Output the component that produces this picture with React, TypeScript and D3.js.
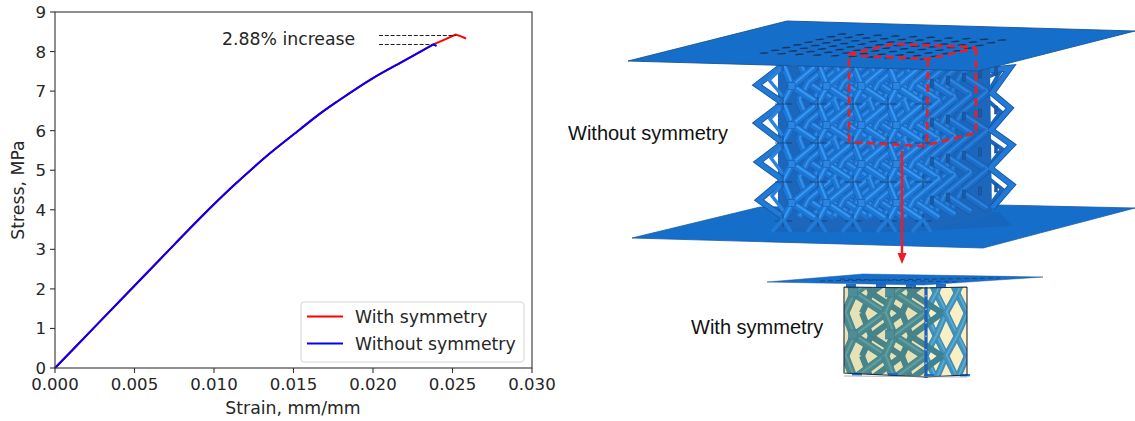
import React from "react";
import * as d3 from "d3";

const strainTicks = [0, 0.005, 0.01, 0.015, 0.02, 0.025, 0.03];
const stressTicks = [0, 1, 2, 3, 4, 5, 6, 7, 8, 9];
const strainWith = [0, 0.0025, 0.005, 0.0075, 0.0091, 0.0112, 0.0123, 0.0135, 0.0154, 0.0165, 0.0178, 0.02, 0.022, 0.0238, 0.0245, 0.0252, 0.0255, 0.02585];
const stressWith = [0, 1.04, 2.08, 3.12, 3.78, 4.6, 5.0, 5.42, 6.03, 6.38, 6.75, 7.33, 7.78, 8.18, 8.3, 8.43, 8.39, 8.33];
const strainWithout = [0, 0.0025, 0.005, 0.0075, 0.0091, 0.0112, 0.0123, 0.0135, 0.0154, 0.0165, 0.0178, 0.02, 0.022, 0.0238, 0.024];
const stressWithout = [0, 1.04, 2.08, 3.12, 3.78, 4.6, 5.0, 5.42, 6.03, 6.38, 6.75, 7.33, 7.78, 8.18, 8.14];
const seriesNames = ["With symmetry", "Without symmetry"];
const seriesColors = ["#ff0000", "#0000ff"];
const xLabel = "Strain, mm/mm";
const yLabel = "Stress, MPa";
const note = "2.88% increase";

const CHART = "'DejaVu Sans', sans-serif";
const SANS = "'Liberation Sans', Arial, sans-serif";
const INK = "#262626";

type LatticeOpts = {
  x0: number; y0: number; cw: number; ch: number; cols: number; rows: number;
  sx: number; sy: number; dx: number; dy: number; layers: number; tilt: number;
  edge: (d: number) => string; body: (d: number) => string; light: (d: number) => string;
  w: number; id: string;
};

function Lattice(o: LatticeOpts) {
  const out: React.ReactNode[] = [];
  for (const d of d3.range(o.layers - 1, -1, -1)) {
    const ox = d * o.dx, oy = d * o.dy;
    for (const r of d3.range(o.rows)) {
      for (const i of d3.range(o.cols)) {
        const P = (a: number, b: number) => [o.x0 + ox + (i + a) * o.cw, o.y0 + oy + (r + b) * o.ch + (i + a) * o.tilt];
        const c = [P(0, 0)[0] + o.sx, P(0, 0)[1] + o.sy];
        const corners = [P(0, 0), P(1, 1), P(1, 0), P(0, 1)];
        corners.forEach((p, k) => {
          const key = `${o.id}${d}-${r}-${i}-${k}`;
          out.push(
            <g key={key}>
              <line x1={c[0]} y1={c[1]} x2={p[0]} y2={p[1]} stroke={o.edge(d)} strokeWidth={o.w + 1} />
              <line x1={c[0]} y1={c[1]} x2={p[0]} y2={p[1]} stroke={o.body(d)} strokeWidth={o.w} />
              <line x1={c[0] + 0.6} y1={c[1] - 0.9} x2={p[0] + 0.6} y2={p[1] - 0.9} stroke={o.light(d)} strokeWidth={o.w * 0.3} />
            </g>
          );
        });
      }
    }
  }
  return <g>{out}</g>;
}

function BigFigure() {
  const holes = d3.cross(d3.range(10), d3.range(8)).map(([i, j]) => {
    const u = i / 9, v = j / 7;
    return { x: 764 + 160 * u + 78 * v, y: 53 + 6 * u - 19 * v, k: `${i}-${j}` };
  });
  const leftZig = "M783,65 L757,85 L783,103 L757,123 L783,143 L758,162 L783,180 L759,200 L783,217";
  const leftInner = "M782,68 L769,80 L786,100 M782,106 L770,119 L786,140 M782,146 L771,158 L786,178 M782,184 L772,196 L786,214";
  const rightZig = "M990,70 L1010,68 L992,93 L1010,108 L991,130 L1012,145 L990,168 L1012,185 L992,208";
  const rightInner = "M985,78 L1000,72 L985,98 L1001,112 L983,136 L1002,149 L983,174 L1002,189 L985,212";
  return (
    <g filter="url(#soft)">
      <polygon points="632,238 760,207 997,205 1135,208 983,248" fill="#196ecb" stroke="#1c5da8" strokeWidth={0.8} />
      <polygon points="790,216 1000,212 1012,226 900,232 770,232" fill="#1658a6" opacity={0.35} />
      <polygon points="778,66 990,66 992,215 930,230 778,228" fill="#1b66bb" />
      <g>
        <path d={leftZig} fill="none" stroke="#15539b" strokeWidth={6.4} />
        <path d={leftZig} fill="none" stroke="#2079d6" strokeWidth={4.8} />
        <path d={leftInner} fill="none" stroke="#2a82dc" strokeWidth={3.4} />
        <path d={rightInner} fill="none" stroke="#1b66bb" strokeWidth={4} />
        <path d={rightZig} fill="none" stroke="#15539b" strokeWidth={6.4} />
        <path d={rightZig} fill="none" stroke="#2079d6" strokeWidth={4.8} />
      </g>
      <Lattice id="big" x0={783} y0={64} cw={35} ch={39} cols={4} rows={4} sx={9} sy={22} dx={16} dy={-3} layers={5} tilt={0.2}
        edge={(d) => d3.interpolateRgb("#1a60b2", "#175aa6")(d / 4)}
        body={(d) => d3.interpolateRgb("#1f78d8", "#1d6cc6")(d / 4)}
        light={(d) => d3.interpolateRgb("#3a98f0", "#2a80da")(d / 4)}
        w={6.6} />
      {d3.cross(d3.range(5), d3.range(5)).map(([i, r]) => {
        const x = 783 + 35 * i, y = 64 + 39 * r;
        return (
          <g key={`j${i}-${r}`} stroke="#143f72" strokeWidth={0.8}>
            <line x1={x - 8} y1={y + 1} x2={x + 9} y2={y + 1} />
            <line x1={x} y1={y - 6} x2={x} y2={y + 7} />
          </g>
        );
      })}
      {d3.cross(d3.range(4), d3.range(4)).map(([i, r]) => (
        <rect key={`s${i}-${r}`} x={788 + 35 * i} y={82.5 + 39 * r} width={7} height={7} fill="#2a86e2" stroke="#1a5aa6" strokeWidth={0.6} />
      ))}
      {d3.cross(d3.range(1, 6), d3.range(4)).map(([d, r]) => (
        <rect key={`p${d}-${r}`} x={914.5 + 16 * d} y={82 + 39 * r - 3 * d} width={3} height={8} fill="#1a5aa6" stroke="#164a8a" strokeWidth={0.5} />
      ))}
      {d3.range(5).map((i) => {
        const x = 783 + 35 * i;
        return (
          <g key={`f${i}`} stroke="#2079d6" strokeWidth={3.6}>
            <line x1={x} y1={219} x2={x - 11} y2={232} />
            <line x1={x} y1={219} x2={x + 8} y2={232} />
          </g>
        );
      })}
      <polygon points="628,61 787,21 1135,31 978,71" fill="#196ecb" stroke="#1b5498" strokeWidth={0.9} />
      {holes.map((h) => (
        <ellipse key={h.k} cx={h.x} cy={h.y} rx={4.6} ry={0.75} transform={`rotate(-4 ${h.x} ${h.y})`} fill="#14365f" />
      ))}
      <path
        d="M849,142 L849,54 L863,56 L928,59 L976,48 L972,47 L893,44 L849,54 M928,59 L927,146 M976,48 L976,133 L923,146 L849,142"
        fill="none" stroke="#ee1c25" strokeWidth={2.6} strokeDasharray="8 4.5" />
      <line x1={902} y1={151} x2={902} y2={255} stroke="#ee1c25" strokeWidth={2.4} />
      <polygon points="897.5,253 906.5,253 902,264" fill="#ee1c25" />
    </g>
  );
}

function SmallFigure() {
  return (
    <g filter="url(#soft)">
      <defs>
        <clipPath id="smallBox"><polygon points="844,287 967,287 967,375 925,377 844,373" /></clipPath>
      </defs>
      <polygon points="844,287 967,287 967,375 925,377 844,373" fill="#f8efc4" />
      <g clipPath="url(#smallBox)">
        <Lattice id="sm" x0={925} y0={270} cw={21} ch={43} cols={2} rows={3} sx={11} sy={23} dx={0} dy={0} layers={1} tilt={0}
          edge={() => "#3a86ad"} body={() => "#3f92bf"} light={() => "#62abc8"} w={5.5} />
        <Lattice id="sb" x0={862} y0={270} cw={40} ch={43} cols={2} rows={3} sx={9} sy={23} dx={0} dy={0} layers={1} tilt={0}
          edge={() => "#3a7f8c"} body={() => "#3f8392"} light={() => "#3f8392"} w={5} />
        <Lattice id="sf" x0={845} y0={270} cw={40} ch={43} cols={2} rows={3} sx={9} sy={23} dx={0} dy={0} layers={1} tilt={0}
          edge={() => "#3a7f8c"} body={() => "#408997"} light={() => "#5ea0a8"} w={7.4} />
        <polygon points="844,287 925,287 925,377 844,373" fill="#7c8f60" opacity={0.14} />
        {d3.cross(d3.range(2), d3.range(2)).map(([i, r]) => (
          <rect key={`q${i}-${r}`} x={848.5 + 37 * i} y={288 + 42 * r} width={9} height={9} fill="#4d8d9a" stroke="#3a7584" strokeWidth={0.6} />
        ))}
      </g>
      {d3.range(4).map((i) => (
        <rect key={`b${i}`} x={852 + 36 * i} y={373 + (i > 1 ? 1 : 0)} width={10} height={2.4} fill="#1d6fd0" />
      ))}
      {d3.range(4).map((i) => (
        <rect key={`t${i}`} x={846 + 30 * i} y={284} width={10} height={3} fill="#1d6fd0" />
      ))}
      <polygon points="767,282 863,274 1043,277 923,285" fill="#196ecb" stroke="#1b5498" strokeWidth={0.5} />
      <path d="M820,281 L1000,278 M840,279 L960,282" stroke="#14365f" strokeWidth={0.7} strokeDasharray="5 3" fill="none" />
      <line x1={926} y1={287} x2={926} y2={378} stroke="#1c62b8" strokeWidth={3.2} />
      <line x1={926} y1={295} x2={926} y2={372} stroke="#d6e4ef" strokeWidth={1} strokeDasharray="1.5 12" />
      <path d="M844,287 L925,288 L967,287 M844,287 L844,373 L925,377 L967,375 L967,287" fill="none" stroke="#1e2b3a" strokeWidth={1.1} />
      <line x1={844} y1={376} x2={967} y2={377} stroke="#8d9296" strokeWidth={0.7} />
    </g>
  );
}

export default function App() {
  const x = d3.scaleLinear().domain([0, 0.03]).range([55, 532]);
  const y = d3.scaleLinear().domain([0, 9]).range([368, 12]);
  const line = d3.line<[number, number]>().x((d) => x(d[0])).y((d) => y(d[1]));
  const smooth = d3.line<[number, number]>().x((d) => x(d[0])).y((d) => y(d[1])).curve(d3.curveMonotoneX);
  const withPts = d3.zip(strainWith, stressWith) as [number, number][];
  const withoutPts = d3.zip(strainWithout, stressWithout) as [number, number][];
  const fmt = d3.format(".3f");
  return (
    <svg width={1135} height={421} viewBox="0 0 1135 421" style={{ position: "absolute", left: 0, top: 0, background: "#fff" }}>
      <defs>
        <filter id="soft" x="-5%" y="-5%" width="110%" height="110%"><feGaussianBlur stdDeviation="0.45" /></filter>
      </defs>
      <g fontFamily={CHART} fontSize={17.3} fill={INK}>
        <path d={smooth(withPts.slice(0, 14))! + line(withPts.slice(13))!.replace("M", "L")} fill="none" stroke={seriesColors[0]} strokeWidth={2} />
        <path d={smooth(withoutPts.slice(0, 14))! + line(withoutPts.slice(13))!.replace("M", "L")} fill="none" stroke={seriesColors[1]} strokeWidth={2} />
        <line x1={379} x2={456} y1={35.5} y2={35.5} stroke="#222" strokeWidth={1.1} strokeDasharray="4 1.8" />
        <line x1={379} x2={433} y1={44.5} y2={44.5} stroke="#222" strokeWidth={1.1} strokeDasharray="4 1.8" />
        <text x={222} y={45}>{note}</text>
        <rect x={55} y={12} width={477} height={356} fill="none" stroke="#333" strokeWidth={1.1} />
        {strainTicks.map((t) => (
          <g key={t}>
            <line x1={x(t)} x2={x(t)} y1={368} y2={373} stroke="#333" strokeWidth={1.1} />
            <text x={x(t)} y={390} textAnchor="middle" fontSize={16.6}>{fmt(t)}</text>
          </g>
        ))}
        {stressTicks.map((t) => (
          <g key={t}>
            <line x1={50} x2={55} y1={y(t)} y2={y(t)} stroke="#333" strokeWidth={1.1} />
            <text x={46} y={y(t) + 6} textAnchor="end" fontSize={16.6}>{t}</text>
          </g>
        ))}
        <text x={293} y={414} textAnchor="middle">{xLabel}</text>
        <text transform="translate(24,190) rotate(-90)" textAnchor="middle">{yLabel}</text>
        <rect x={301} y={302} width={223} height={60} rx={3} fill="#fff" fillOpacity={0.8} stroke="#d4d4d4" strokeWidth={1} />
        {seriesNames.map((n, i) => (
          <g key={n}>
            <line x1={307} x2={343} y1={316.5 + 27 * i} y2={316.5 + 27 * i} stroke={seriesColors[i]} strokeWidth={2} />
            <text x={355} y={322.5 + 27 * i}>{n}</text>
          </g>
        ))}
      </g>
      <BigFigure />
      <SmallFigure />
      <g fontFamily={SANS} fontSize={20} fill="#111">
        <text x={568} y={140}>Without symmetry</text>
        <text x={691} y={334}>With symmetry</text>
      </g>
    </svg>
  );
}
